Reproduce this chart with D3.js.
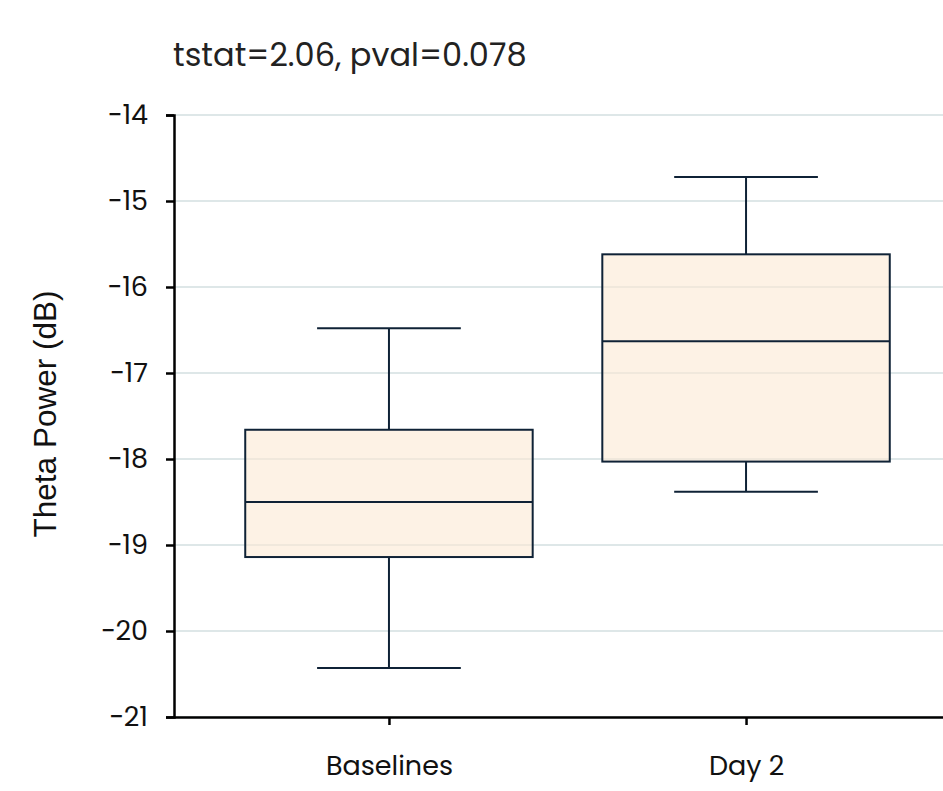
<!DOCTYPE html>
<html><head><meta charset="utf-8">
<script src="https://cdn.jsdelivr.net/npm/d3@7"></script>
<style>body{margin:0;background:#fff}svg{display:block}</style>
</head><body>
<script>
const categories = ["Baselines", "Day 2"];
const whiskerLow = [-20.43, -18.38];
const q1 = [-19.14, -18.03];
const median = [-18.5, -16.63];
const q3 = [-17.66, -15.62];
const whiskerHigh = [-16.48, -14.72];
const yTicks = [-14, -15, -16, -17, -18, -19, -20, -21];
const title = "tstat=2.06, pval=0.078";
const yLabel = "Theta Power (dB)";

(function () {
const W = 943, H = 791;
const svg = d3.select("body").append("svg").attr("width", W).attr("height", H);
const mLeft = 174, mTop = 115, mBottom = 717;

const y = d3.scaleLinear().domain([-21, -14]).range([mBottom, mTop]);
const x = d3.scalePoint().domain(categories).range([mLeft, 961]).padding(0.602);
const step = x.step();
const boxW = step * 0.805;
const font = "Poppins, Inter, 'Open Sans', sans-serif";

// grid
svg.append("g").selectAll("line").data(yTicks).join("line")
  .attr("x1", mLeft).attr("x2", W).attr("y1", d => y(d)).attr("y2", d => y(d))
  .attr("stroke", "#d3dfe1").attr("stroke-width", 1.5);

const data = categories.map((c, i) => ({c, lo: whiskerLow[i], q1: q1[i], med: median[i], q3: q3[i], hi: whiskerHigh[i]}));
const g = svg.append("g").selectAll("g").data(data).join("g");
const stroke = "#0f2236";
g.append("line").attr("x1", d => x(d.c)).attr("x2", d => x(d.c))
  .attr("y1", d => y(d.hi)).attr("y2", d => y(d.q3)).attr("stroke", stroke).attr("stroke-width", 2);
g.append("line").attr("x1", d => x(d.c)).attr("x2", d => x(d.c))
  .attr("y1", d => y(d.q1)).attr("y2", d => y(d.lo)).attr("stroke", stroke).attr("stroke-width", 2);
g.append("line").attr("x1", d => x(d.c) - boxW / 4).attr("x2", d => x(d.c) + boxW / 4)
  .attr("y1", d => y(d.hi)).attr("y2", d => y(d.hi)).attr("stroke", stroke).attr("stroke-width", 2);
g.append("line").attr("x1", d => x(d.c) - boxW / 4).attr("x2", d => x(d.c) + boxW / 4)
  .attr("y1", d => y(d.lo)).attr("y2", d => y(d.lo)).attr("stroke", stroke).attr("stroke-width", 2);
g.append("rect").attr("x", d => x(d.c) - boxW / 2).attr("width", boxW)
  .attr("y", d => y(d.q3)).attr("height", d => y(d.q1) - y(d.q3))
  .attr("fill", "#fcead4").attr("fill-opacity", 0.6).attr("stroke", stroke).attr("stroke-width", 2);
g.append("line").attr("x1", d => x(d.c) - boxW / 2).attr("x2", d => x(d.c) + boxW / 2)
  .attr("y1", d => y(d.med)).attr("y2", d => y(d.med)).attr("stroke", stroke).attr("stroke-width", 2);

// axes
const yAxis = svg.append("g").attr("transform", `translate(${mLeft},0)`)
  .call(d3.axisLeft(y).tickValues(yTicks).tickSize(8).tickPadding(18).tickFormat(d => d < 0 ? "\u2212" + Math.abs(d) : String(d)));
const xAxis = svg.append("g").attr("transform", `translate(0,${mBottom})`)
  .call(d3.axisBottom(x).tickSize(8).tickPadding(31));
xAxis.select(".domain").attr("d", `M${mLeft},0.5H${W}`);
[yAxis, xAxis].forEach(a => {
  a.select(".domain").attr("stroke", "#000").attr("stroke-width", 2.5);
  a.selectAll(".tick line").attr("stroke", "#000").attr("stroke-width", 2.5);
  a.selectAll("text").attr("font-family", font).attr("font-size", 27).attr("fill", "#111");
});

svg.append("text").attr("x", 173).attr("y", 66).text(title)
  .attr("font-family", font).attr("font-size", 32).attr("fill", "#222");
svg.append("text").attr("transform", `translate(56,414) rotate(-90)`).attr("text-anchor", "middle")
  .text(yLabel).attr("font-family", "'Liberation Sans', Arial, sans-serif").attr("font-size", 31.5).attr("fill", "#111");
})();
</script>
</body></html>
